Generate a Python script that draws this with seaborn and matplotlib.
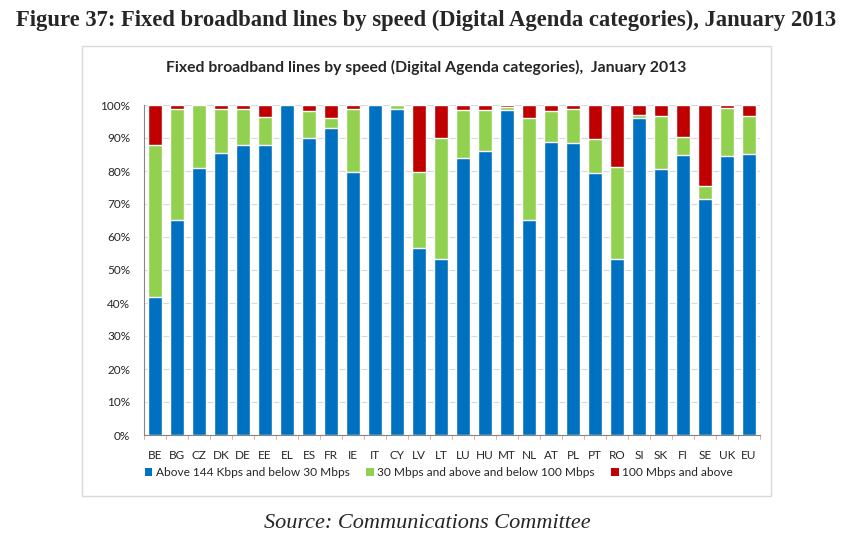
import numpy as np
import pandas as pd
import matplotlib.pyplot as plt
import seaborn as sns
from matplotlib.patches import Rectangle, Patch

countries = ["BE", "BG", "CZ", "DK", "DE", "EE", "EL", "ES", "FR", "IE",
             "IT", "CY", "LV", "LT", "LU", "HU", "MT", "NL", "AT", "PL",
             "PT", "RO", "SI", "SK", "FI", "SE", "UK", "EU"]

# shares in %
low_speed = [41.8, 65.1, 80.8, 85.4, 88.0, 87.9, 100.0, 89.9, 93.1, 79.6,
             100.0, 98.7, 56.8, 53.3, 83.9, 86.0, 98.4, 65.1, 88.7, 88.6,
             79.3, 53.3, 96.2, 80.5, 84.8, 71.4, 84.4, 85.3]
mid_speed = [46.1, 33.8, 19.2, 13.5, 10.9, 8.6, 0.0, 8.3, 3.0, 19.1,
             0.0, 1.3, 22.8, 36.8, 14.5, 12.6, 1.0, 30.9, 9.5, 10.3,
             10.4, 27.8, 0.7, 16.1, 5.4, 4.2, 14.8, 11.5]
high_speed = [12.1, 1.1, 0.0, 1.1, 1.1, 3.5, 0.0, 1.8, 3.9, 1.3,
              0.0, 0.0, 20.4, 9.9, 1.6, 1.4, 0.6, 4.0, 1.8, 1.1,
              10.3, 18.9, 3.1, 3.4, 9.8, 24.4, 0.8, 3.2]

series = ["Above 144 Kbps and below 30 Mbps",
          "30 Mbps and above and below 100 Mbps",
          "100 Mbps and above"]
colors = ["#0070C0", "#92D050", "#C00000"]

df = pd.DataFrame({"country": countries, "low": low_speed,
                   "mid": mid_speed, "high": high_speed})
df["cum_mid"] = df["low"] + df["mid"]
df["cum_high"] = df["cum_mid"] + df["high"]

sns.set_style("white")
plt.rcParams["font.family"] = ["Lato", "DejaVu Sans"]

fig = plt.figure(figsize=(8.52, 5.43), dpi=100)

# chart frame
fig.patches.append(Rectangle((82 / 852, 1 - 496 / 543), (771 - 82) / 852, (496 - 46) / 543,
                             transform=fig.transFigure, fill=False,
                             edgecolor="#d9d9d9", linewidth=1.0))

ax = fig.add_axes([144 / 852, 1 - 435 / 543, (760 - 144) / 852, (435 - 105) / 543])

for col, c in zip(["cum_high", "cum_mid", "low"], colors[::-1]):
    sns.barplot(data=df, x="country", y=col, color=c, width=0.68,
                saturation=1, ax=ax, zorder=2)

ax.set_ylim(0, 100)
ax.set_xlim(-0.5, len(countries) - 0.5)
ax.set_yticks(np.arange(0, 101, 10))
ax.set_yticklabels([f"{v}%" for v in range(0, 101, 10)], fontsize=8.5)
ax.tick_params(axis="x", labelsize=8.5, length=0, pad=11)
ax.tick_params(axis="y", length=0, pad=10)
ax.set_xlabel("")
ax.set_ylabel("")
ax.yaxis.grid(True, color="#d9d9d9", linewidth=0.8, zorder=0)
for s in ["top", "right"]:
    ax.spines[s].set_visible(False)
ax.spines["left"].set_color("#868686")
ax.spines["bottom"].set_color("#868686")
ax.spines["left"].set_linewidth(0.8)
ax.spines["bottom"].set_linewidth(0.8)
# category boundary ticks
for b in np.arange(-0.5, len(countries), 1.0):
    ax.plot([b, b], [0, -1.3], color="#e0a080", lw=0.6, clip_on=False)

handles = [Patch(facecolor=c, edgecolor="none") for c in colors]
fig.legend(handles, series, loc="center", bbox_to_anchor=(439 / 852, 1 - 473 / 543),
           ncol=3, frameon=False, fontsize=8.6, handlelength=0.6, handleheight=0.6,
           handletextpad=0.3, columnspacing=1.4)

fig.text(426 / 852, 1 - 67 / 543,
         "Fixed broadband lines by speed (Digital Agenda categories),  January 2013",
         ha="center", va="center", fontsize=11.3, fontweight="bold")

fig.text(426 / 852, 1 - 20 / 543,
         "Figure 37: Fixed broadband lines by speed (Digital Agenda categories), January 2013",
         ha="center", va="center", fontsize=16.3, fontweight="bold",
         family=["Liberation Serif", "DejaVu Serif"])

fig.text(427 / 852, 1 - 523 / 543, "Source: Communications Committee",
         ha="center", va="center", fontsize=16, style="italic",
         family=["Liberation Serif", "DejaVu Serif"])

fig.savefig("out.png", dpi=100)
